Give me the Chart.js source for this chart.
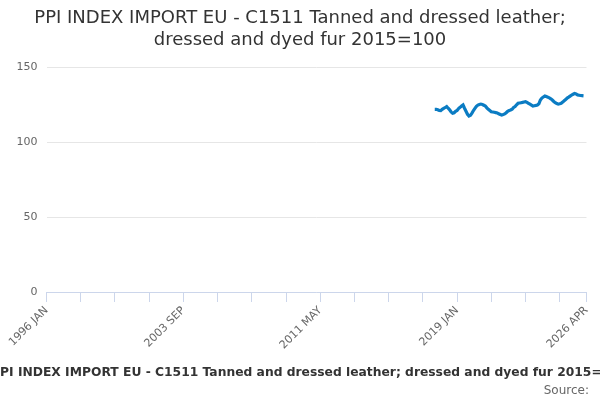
<!DOCTYPE html>
<html>
<head>
<meta charset="utf-8">
<script src="https://cdn.jsdelivr.net/npm/chart.js@4/dist/chart.umd.min.js"></script>
<style>
html,body{margin:0;padding:0;background:#fff;}
#wrap{width:600px;height:400px;position:relative;}
</style>
</head>
<body>
<div id="wrap"><canvas id="c" width="600" height="400"></canvas></div>
<script>
const titleLines = ["PPI INDEX IMPORT EU - C1511 Tanned and dressed leather;", "dressed and dyed fur 2015=100"];
const captionText = "PPI INDEX IMPORT EU - C1511 Tanned and dressed leather; dressed and dyed fur 2015=100";
const sourceText = "Source:";
const monthNames = ["JAN","FEB","MAR","APR","MAY","JUN","JUL","AUG","SEP","OCT","NOV","DEC"];
const firstYear = 1996;
const monthCount = 364; // 1996 JAN .. 2026 APR
const seriesStart = "2017 OCT";
const yTicks = [0, 50, 100, 150];
// monthly index values from 2017 OCT onward
const values = [
121.8,121.8,121.5,121.0,120.9,121.8,122.4,123.0,123.6,122.5,
121.5,120.0,119.2,119.5,120.5,121.0,122.3,123.1,124.0,124.7,
122.5,120.5,118.5,117.3,117.8,119.3,121.0,122.4,123.8,124.6,
125.0,125.3,125.0,124.5,124.0,122.8,121.8,121.0,120.2,120.0,
119.8,119.6,119.4,118.8,118.3,118.0,118.3,118.7,119.5,120.5,
121.0,121.3,121.8,123.0,123.6,124.8,125.8,126.0,126.2,126.4,
126.7,126.9,126.4,125.8,125.2,124.6,124.0,124.2,124.4,124.7,
125.5,128.0,129.3,130.0,130.7,130.3,129.9,129.4,128.8,128.0,
127.0,126.2,125.6,125.3,125.5,125.8,126.6,127.5,128.3,129.3,
129.9,130.6,131.3,131.8,132.3,132.0,131.4,131.2,131.0,130.9,
130.8
];

const labels = [];
for (let i = 0; i < monthCount; i++) {
  labels.push((firstYear + Math.floor(i / 12)) + " " + monthNames[i % 12]);
}
const startIdx = labels.indexOf(seriesStart);
const data = labels.map((l, i) => (i >= startIdx && i - startIdx < values.length) ? values[i - startIdx] : null);

const footerPlugin = {
  id: 'footerText',
  afterDraw(chart) {
    const ctx = chart.ctx;
    ctx.save();
    ctx.font = "bold 12.3px 'DejaVu Sans'";
    ctx.fillStyle = '#333333';
    ctx.textAlign = 'left';
    ctx.textBaseline = 'middle';
    ctx.fillText(captionText, -9, 373);
    ctx.font = "12px 'DejaVu Sans'";
    ctx.fillStyle = '#666666';
    ctx.textAlign = 'right';
    ctx.fillText(sourceText, 589, 391);
    ctx.restore();
  }
};

new Chart(document.getElementById('c'), {
  type: 'line',
  data: {
    labels: labels,
    datasets: [{
      data: data,
      borderColor: '#0b7cc3',
      backgroundColor: '#0b7cc3',
      borderWidth: 3.2,
      pointRadius: 0,
      tension: 0,
      spanGaps: false
    }]
  },
  options: {
    responsive: false,
    animation: false,
    devicePixelRatio: 1,
    layout: { padding: { left: 0, right: 0, top: 0, bottom: 48 } },
    plugins: {
      legend: { display: false },
      tooltip: { enabled: false },
      title: {
        display: true,
        text: titleLines,
        color: '#333333',
        font: { family: "'DejaVu Sans'", size: 18, weight: 'normal', lineHeight: '22px' },
        padding: { top: 7, bottom: 16 }
      }
    },
    scales: {
      x: {
        type: 'category',
        offset: false,
        border: { display: true, color: '#ccd6eb', width: 1 },
        grid: {
          drawOnChartArea: false,
          drawTicks: true,
          tickLength: 10,
          color: (ctx) => (ctx.index % 23 === 0 || ctx.index === monthCount - 1) ? '#ccd6eb' : 'rgba(0,0,0,0)'
        },
        ticks: {
          autoSkip: false,
          maxRotation: 45,
          minRotation: 45,
          padding: 2,
          color: '#666666',
          font: { family: "'DejaVu Sans'", size: 11 },
          callback: function(v, i) { return (i % 92 === 0 || i === monthCount - 1) ? labels[i] : ''; }
        },
        afterFit: (s) => { s.height = 60; }
      },
      y: {
        min: 0,
        max: 150,
        afterBuildTicks: (s) => { s.ticks = yTicks.map(v => ({ value: v })); },
        border: { display: false },
        grid: { color: '#e6e6e6', drawTicks: false },
        ticks: {
          padding: 9,
          color: '#666666',
          font: { family: "'DejaVu Sans'", size: 11 }
        },
        afterFit: (s) => { s.width = 46.5; }
      },
      yRight: {
        position: 'right',
        min: 0,
        max: 150,
        display: true,
        border: { display: false },
        grid: { display: false, drawTicks: false },
        ticks: { display: false },
        afterFit: (s) => { s.width = 13.5; }
      }
    }
  },
  plugins: [footerPlugin]
});
</script>
</body>
</html>
